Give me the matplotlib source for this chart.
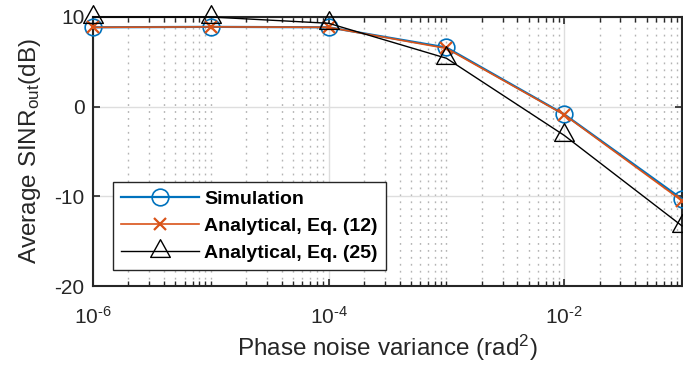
import numpy as np
import matplotlib
matplotlib.use("Agg")
import matplotlib.pyplot as plt
from matplotlib.ticker import FixedLocator, FixedFormatter, NullFormatter
from matplotlib.path import Path

plt.rcParams['font.family'] = ['Liberation Sans', 'DejaVu Sans']
plt.rcParams['mathtext.fontset'] = 'custom'
plt.rcParams['mathtext.rm'] = 'Liberation Sans'
plt.rcParams['mathtext.it'] = 'Liberation Sans'
plt.rcParams['mathtext.default'] = 'regular'
plt.rcParams['axes.unicode_minus'] = False

variance = [1e-6, 1e-5, 1e-4, 1e-3, 1e-2, 1e-1]
sim = [8.85, 8.9, 8.85, 6.6, -0.85, -10.3]
eq12 = [8.85, 8.9, 8.85, 6.5, -0.9, -10.5]
eq25 = [10.0, 10.0, 9.3, 5.4, -3.2, -13.3]

x_ticks = [1e-6, 1e-4, 1e-2]
x_ticklabels = [r'$10^{\text{-6}}$', r'$10^{\text{-4}}$', r'$10^{\text{-2}}$']
y_ticks = [-20, -10, 0, 10]

# MATLAB-like triangle centred on its centroid
tri = Path([(0, 12), (-10, -6), (10, -6), (0, 12)],
           [Path.MOVETO, Path.LINETO, Path.LINETO, Path.CLOSEPOLY])

W, H = 683, 367
fig = plt.figure(figsize=(W/100, H/100), dpi=100)
ax = fig.add_axes([93/W, 1-286/H, (682-93)/W, (286-17)/H])

ax.plot(variance, sim, color='#0072BD', lw=1.6, marker='o', ms=12, mfc='none',
        mec='#0072BD', mew=1.2, label='Simulation', clip_on=False, zorder=3)
ax.plot(variance, eq12, color='#D95319', lw=1.2, marker='x', ms=9, mew=1.6,
        label='Analytical, Eq. (12)', clip_on=False, zorder=4)
ax.plot(variance, eq25, color='black', lw=1.0, marker=tri, ms=17, mfc='none',
        mec='black', mew=1.0, label='Analytical, Eq. (25)', clip_on=False, zorder=5)

ax.set_xscale('log')
ax.set_xlim(1e-6, 1e-1)
ax.set_ylim(-20, 10)

minor = []
for d in range(-6, -1):
    for m in range(1, 10):
        if m == 1 and d % 2 == 0:
            continue
        minor.append(m * 10.0**d)
minor.append(1e-1)
ax.xaxis.set_major_locator(FixedLocator(x_ticks))
ax.xaxis.set_major_formatter(FixedFormatter(x_ticklabels))
ax.xaxis.set_minor_locator(FixedLocator(minor))
ax.xaxis.set_minor_formatter(NullFormatter())
ax.set_yticks(y_ticks)

ax.grid(True, which='major', color='#dedede', lw=1.0, ls='-')
ax.grid(True, which='minor', axis='x', color='#b4b4b4', lw=1.0, ls=(0, (1.3, 3.7)))
ax.set_axisbelow(True)

for s in ax.spines.values():
    s.set_color('#262626')
    s.set_linewidth(1.5)

ax.tick_params(which='both', direction='in', top=True, right=True,
               colors='#262626', labelsize=15, labelcolor='#262626')
ax.tick_params(which='major', length=5, width=1.2)
ax.tick_params(which='minor', length=3.5, width=1.0)
ax.tick_params(axis='x', pad=14)
ax.tick_params(axis='y', pad=6)

ax.set_xlabel('Phase noise variance (rad$^2$)', fontsize=17.5, color='#262626', labelpad=4)
ax.set_ylabel('Average SINR$_{out}$(dB)', fontsize=17.5, color='#262626', labelpad=8)

leg = ax.legend(loc='lower left', bbox_to_anchor=(0.034, 0.0595), borderaxespad=0,
                fontsize=14, frameon=True, fancybox=False, framealpha=1,
                edgecolor='#262626', handlelength=4.0, handletextpad=0.3,
                labelspacing=0.5, borderpad=0.4)
leg.get_frame().set_linewidth(1.0)
for t in leg.get_texts():
    t.set_fontweight('bold')

fig.savefig('out.png', dpi=100)
